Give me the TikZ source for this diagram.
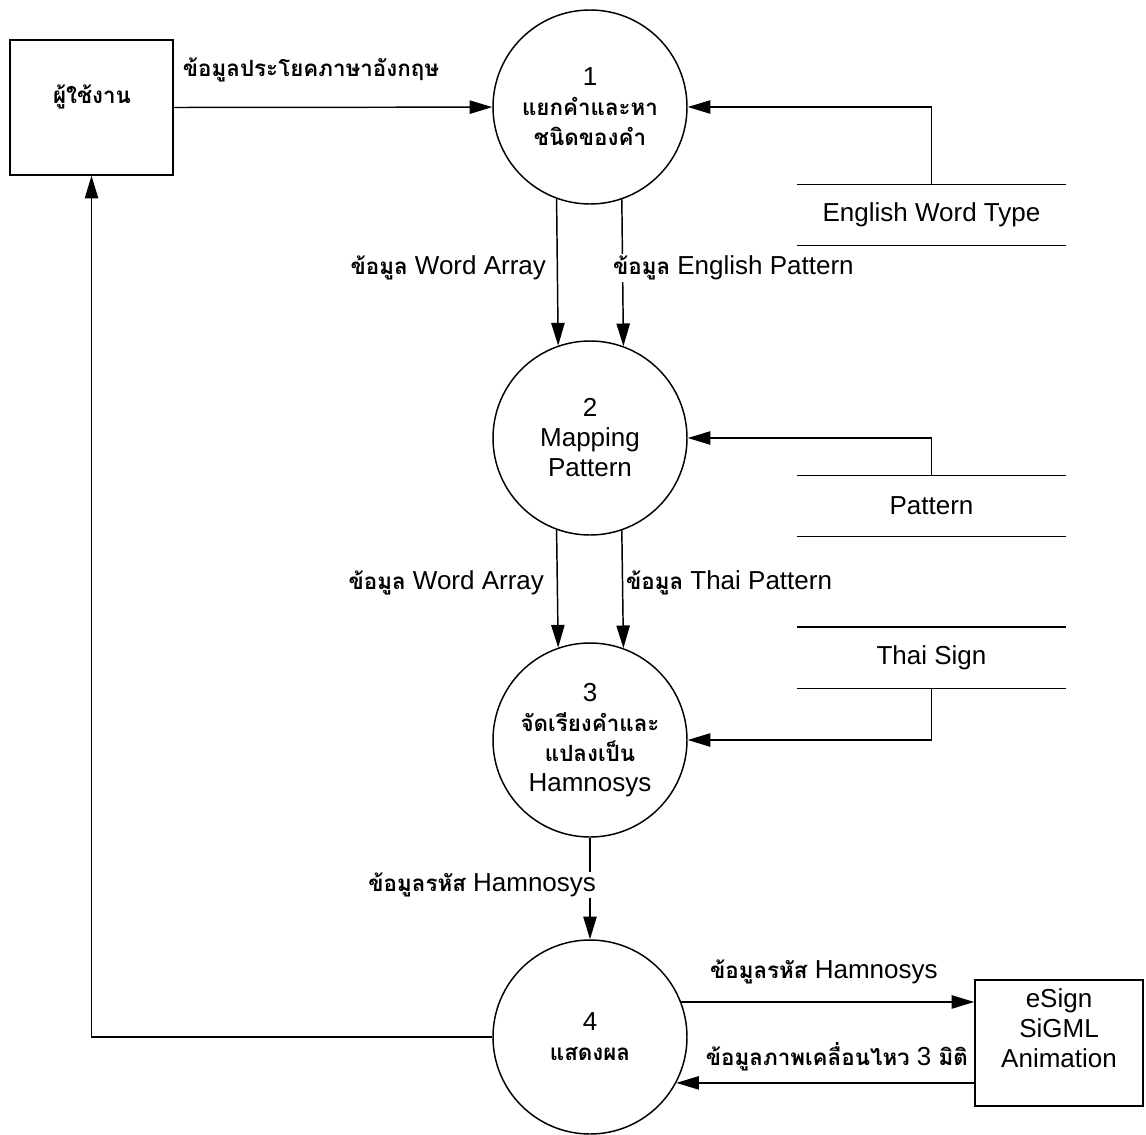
\documentclass[tikz,border=0pt]{standalone}
\usepackage{fontspec}
\setmainfont{Liberation Sans}
\newfontfamily\thaifont[Script=Thai,Scale=0.86]{Loma}
\usetikzlibrary{arrows.meta,calc}
\newcommand\thtext[1]{{\thaifont\bfseries #1}}

\begin{document}
\begin{tikzpicture}[x=0.75pt,y=-0.75pt,
  font=\fontsize{19.5}{22.5}\selectfont,
  line width=1.1pt,
  flow/.style={-{Triangle[length=17pt,width=10pt]}},
  process/.style={draw, circle, minimum size=145.5pt, inner sep=0pt, align=center},
  entity/.style={draw, rectangle, inner sep=0pt},
  store/.style={minimum width=200.25pt, minimum height=45pt, inner sep=0pt},
  lbl/.style={inner sep=1pt},
  mask/.style={fill=white, inner sep=1pt}]

\useasboundingbox (0,0) rectangle (1146,1135);

% external entities
\node[entity, minimum width=122.25pt, minimum height=101.25pt] (user) at (91.5,107.5) {};
\node at (92,97) {\thtext{ผู้ใช้งาน}};
\node[entity, minimum width=126pt, minimum height=94.5pt] (esign) at (1059,1043) {};
\node[align=center] at (1059,1028) {eSign\\SiGML\\Animation};

% processes
\node[process] (p1) at (590,107) {1\\\thtext{แยกคำและหา}\\\thtext{ชนิดของคำ}};
\node[process] (p2) at (590,438) {2\\Mapping\\Pattern};
\node[process] (p3) at (590,740) {3\\\thtext{จัดเรียงคำและ}\\\thtext{แปลงเป็น}\\Hamnosys};
\node[process] (p4) at (590,1037) {4\\\thtext{แสดงผล}};

% data stores
\node[store] (ds1) at (931.5,215) {English Word Type};
\node[store] (ds2) at (931.5,506) {Pattern};
\node[store] (ds3) at (931.5,657.5) {Thai Sign};
\foreach \s in {ds1,ds2,ds3}{
  \draw (\s.north west) -- (\s.north east);
  \draw (\s.south west) -- (\s.south east);
}

% flows
\draw[flow] (user.east) -- (p1);
\node[lbl] at (311,70) {\thtext{ข้อมูลประโยคภาษาอังกฤษ}};

\draw[flow] (ds1.north) |- (p1.east);
\draw[flow] (ds2.north) |- (p2.east);
\draw[flow] (ds3.south) |- (p3.east);

\draw[flow] (p1.250.7) -- (p2.109.3);
\draw[flow] (p1.289.3) -- (p2.70.7);
\node[lbl, anchor=east] at (548,268) {\thtext{ข้อมูล} Word Array};
\node[mask, anchor=west] at (611,268) {\thtext{ข้อมูล} English Pattern};

\draw[flow] (p2.250.7) -- (p3.109.3);
\draw[flow] (p2.289.3) -- (p3.70.7);
\node[lbl, anchor=east] at (546,583) {\thtext{ข้อมูล} Word Array};
\node[lbl, anchor=west] at (624,583) {\thtext{ข้อมูล} Thai Pattern};

\draw[flow] (p3.south) -- (p4.north);
\node[mask, anchor=east] at (598,885) {\thtext{ข้อมูลรหัส} Hamnosys};

\draw[flow] (p4.21) -- (p4.21 -| esign.west);
\node[lbl, anchor=west] at (708,972) {\thtext{ข้อมูลรหัส} Hamnosys};
\draw[flow] (p4.-28.3 -| esign.west) -- (p4.-28.3);
\node[lbl, anchor=east] at (970,1057) {\thtext{ข้อมูลภาพเคลื่อนไหว} 3 \thtext{มิติ}};

\draw[flow] (p4.west) -| (user.south);
\end{tikzpicture}
\end{document}
